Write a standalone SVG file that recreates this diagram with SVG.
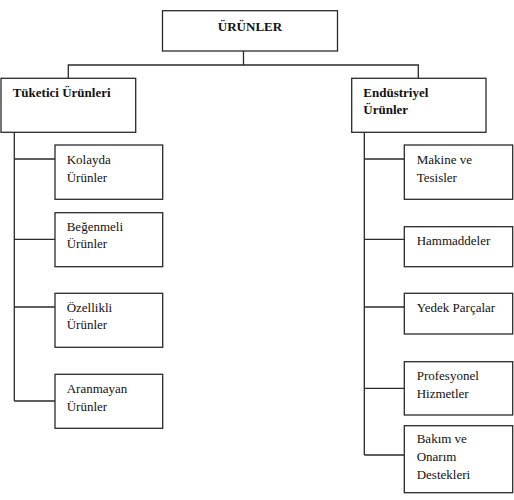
<svg xmlns="http://www.w3.org/2000/svg" width="514" height="500" viewBox="0 0 514 500">
<style>
.box{fill:#fff;stroke:#2a2a2a;stroke-width:1.3}
.ln{fill:none;stroke:#2a2a2a;stroke-width:1.3}
text{font-size:13px;fill:#111}
.b{font-weight:bold}
</style>
<rect width="514" height="500" fill="#fff"/>
<g id="connectors">
<path class="ln" d="M243.5,51 V65 M68.3,78.3 V65 H418.3 V78.3"/>
<path class="ln" d="M14.3,132.3 V401 M14.3,159 H55 M14.3,239.3 H55 M14.3,307 H55 M14.3,401 H55"/>
<path class="ln" d="M364.3,132.3 V455 M364.3,159 H404.3 M364.3,239.3 H404.3 M364.3,307 H404.3 M364.3,388.3 H404.3 M364.3,455 H404.3"/>
</g>
<g font-family="Liberation Serif, DejaVu Serif, serif">
<g id="urunler"><rect class="box" x="162.5" y="10.7" width="175" height="40.3"/><text class="b" x="250" y="30.5" text-anchor="middle">ÜRÜNLER</text></g>
<g id="tuketici"><rect class="box" x="1" y="78.3" width="134.7" height="54"/><text class="b" x="12.7" y="96.7">Tüketici Ürünleri</text></g>
<g id="endustriyel"><rect class="box" x="351.7" y="78.3" width="134.3" height="54"/><text class="b" x="363.3" y="96.7">Endüstriyel</text><text class="b" x="363.3" y="114">Ürünler</text></g>
<g id="kolayda"><rect class="box" x="55" y="145" width="107.7" height="54.3"/><text x="66.7" y="164">Kolayda</text><text x="66.7" y="181.7">Ürünler</text></g>
<g id="begenmeli"><rect class="box" x="55" y="212.7" width="107.7" height="54"/><text x="66.7" y="231">Beğenmeli</text><text x="66.7" y="248.3">Ürünler</text></g>
<g id="ozellikli"><rect class="box" x="55" y="293.3" width="107.7" height="54"/><text x="66.7" y="311.7">Özellikli</text><text x="66.7" y="329.3">Ürünler</text></g>
<g id="aranmayan"><rect class="box" x="55" y="374.3" width="107.7" height="54"/><text x="66.7" y="392.7">Aranmayan</text><text x="66.7" y="410.7">Ürünler</text></g>
<g id="makine"><rect class="box" x="404.3" y="145" width="108.4" height="54.3"/><text x="416.7" y="164">Makine ve</text><text x="416.7" y="181.7">Tesisler</text></g>
<g id="hammaddeler"><rect class="box" x="404.3" y="226.7" width="108.4" height="40"/><text x="416.7" y="245">Hammaddeler</text></g>
<g id="yedek"><rect class="box" x="404.3" y="293.3" width="108.4" height="40.7"/><text x="416.7" y="311.7">Yedek Parçalar</text></g>
<g id="profesyonel"><rect class="box" x="404.3" y="361.7" width="108.4" height="53.3"/><text x="416.7" y="380">Profesyonel</text><text x="416.7" y="397.7">Hizmetler</text></g>
<g id="bakim"><rect class="box" x="404.3" y="425.7" width="108.4" height="67"/><text x="416.7" y="442.7">Bakım ve</text><text x="416.7" y="460.7">Onarım</text><text x="416.7" y="479">Destekleri</text></g>
</g>
</svg>
